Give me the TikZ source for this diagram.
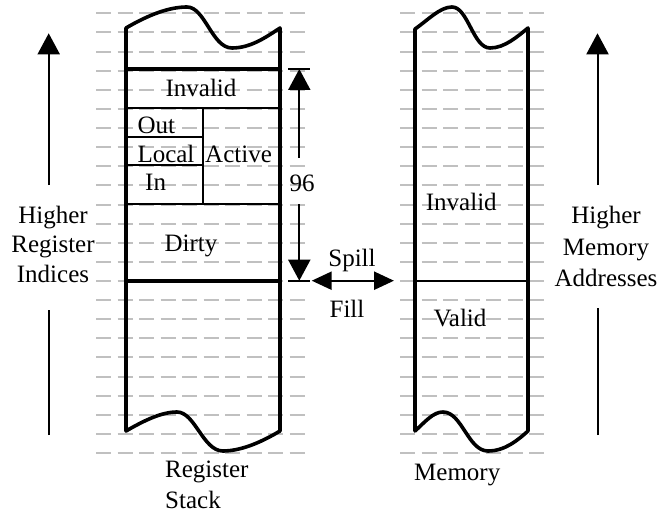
\documentclass[tikz,border=0pt]{standalone}
\usepackage{fontspec}
\setmainfont{Liberation Serif}
\usetikzlibrary{arrows.meta}
\definecolor{dashgray}{RGB}{192,192,192}
\begin{document}
\begin{tikzpicture}[x=1pt,y=-1pt,
  lbl/.style={font=\fontsize{25}{30}\selectfont, inner sep=0pt},
  dashrow/.style={draw=dashgray, line width=2pt, dash pattern=on 15pt off 6.5pt},
  colline/.style={line width=3.6pt, line join=round},
  thickline/.style={line width=3.6pt},
  thinline/.style={line width=1.7pt},
  shaft/.style={line width=2pt},
  bigtip/.style={-{Triangle[length=21pt,width=22pt]}, line width=2pt},
  sftip/.style={{Triangle[length=20pt,width=18pt]}-{Triangle[length=20pt,width=18pt]}, line width=2.4pt}
]
\useasboundingbox (0,0) rectangle (664,516);

% background dashed rows
\foreach \k in {0,...,23}{
  \draw[dashrow] (96,{13.3+19.12*\k}) -- (310,{13.3+19.12*\k});
  \draw[dashrow] (400,{13.3+19.12*\k}) -- (550,{13.3+19.12*\k});
}

% register stack column
\draw[colline] (126,28) .. controls (150,14) and (170,7) .. (187,7)
  .. controls (205,7) and (212,48) .. (232,48)
  .. controls (250,48) and (265,38) .. (280,28)
  -- (280,431)
  .. controls (265,440) and (243,451) .. (223,451)
  .. controls (203,451) and (195,412) .. (177,412)
  .. controls (162,412) and (145,420) .. (126,431) -- cycle;

% memory column
\draw[colline] (415,29) .. controls (428,20) and (440,7) .. (452,7)
  .. controls (468,7) and (473,48) .. (490,48)
  .. controls (505,48) and (518,36) .. (528,28)
  -- (528,431)
  .. controls (518,440) and (505,451) .. (488,451)
  .. controls (468,451) and (462,412) .. (443,412)
  .. controls (433,412) and (425,422) .. (415,431) -- cycle;

% register stack divisions
\draw[thickline] (126,69) -- (280,69);
\draw[thickline] (126,280.7) -- (280,280.7);
\draw[thinline] (126,108.3) -- (280,108.3);
\draw[thinline] (126,204.3) -- (280,204.3);
\draw[thinline] (126,136.7) -- (202.7,136.7);
\draw[thinline] (126,165) -- (202.7,165);
\draw[thinline] (202.7,108.3) -- (202.7,204.3);

% memory division
\draw[thinline] (415,281) -- (528,281);

% labels inside register stack
\node[lbl, anchor=base] (invS) at (201,96.7) {Invalid};
\node[lbl, anchor=base west] (out) at (137.3,133.3) {Out};
\node[lbl, anchor=base west] (local) at (137.3,162.3) {Local};
\node[lbl, anchor=base west] (active) at (205,162.3) {Active};
\node[lbl, anchor=base west] (in) at (145,190.7) {In};
\node[lbl, anchor=base] (dirty) at (191,251.7) {Dirty};

% 96 dimension
\node[lbl, anchor=base west] (n96) at (289.3,191.7) {96};
\coordinate (t96top) at (299.3,69);
\coordinate (t96bot) at (299.3,280.7);
\coordinate (s96top) at (299.3,157.7);
\coordinate (s96bot) at (299.3,204.3);
\draw[shaft] (288,69) -- (310,69);
\draw[shaft] (288,280.7) -- (309.5,280.7);
\draw[bigtip] (s96top) -- (t96top);
\draw[bigtip] (s96bot) -- (t96bot);

% spill / fill
\node[lbl, anchor=base] (spill) at (352,266.7) {Spill};
\node[lbl, anchor=base] (fill) at (347,317) {Fill};
\coordinate (sfL) at (311.7,280.7);
\coordinate (sfR) at (394,280.7);
\draw[sftip] (sfL) -- (sfR);

% memory labels
\node[lbl, anchor=base] (invM) at (461.3,210) {Invalid};
\node[lbl, anchor=base] (valid) at (460,326.7) {Valid};

% left side label and arrow
\node[lbl, anchor=base] (hL1) at (53,223.3) {Higher};
\node[lbl, anchor=base] (hL2) at (53,252.3) {Register};
\node[lbl, anchor=base] (hL3) at (53,282.3) {Indices};
\coordinate (laTip) at (48.7,33.3);
\coordinate (laUp) at (48.7,185);
\coordinate (laLow) at (48.7,310);
\coordinate (laBot) at (48.7,435);
\draw[bigtip] (laUp) -- (laTip);
\draw[shaft] (laBot) -- (laLow);

% right side label and arrow
\node[lbl, anchor=base] (hR1) at (606,223.3) {Higher};
\node[lbl, anchor=base] (hR2) at (606,255) {Memory};
\node[lbl, anchor=base] (hR3) at (606,286.7) {Addresses};
\coordinate (raTip) at (597.5,33.3);
\coordinate (raUp) at (597.5,185);
\coordinate (raLow) at (597.5,308);
\coordinate (raBot) at (597.5,435);
\draw[bigtip] (raUp) -- (raTip);
\draw[shaft] (raBot) -- (raLow);

% captions
\node[lbl, anchor=base west] (regcap1) at (165,477) {Register};
\node[lbl, anchor=base west] (regcap2) at (165,508) {Stack};
\node[lbl, anchor=base west] (memcap) at (414,480) {Memory};
\end{tikzpicture}
\end{document}
